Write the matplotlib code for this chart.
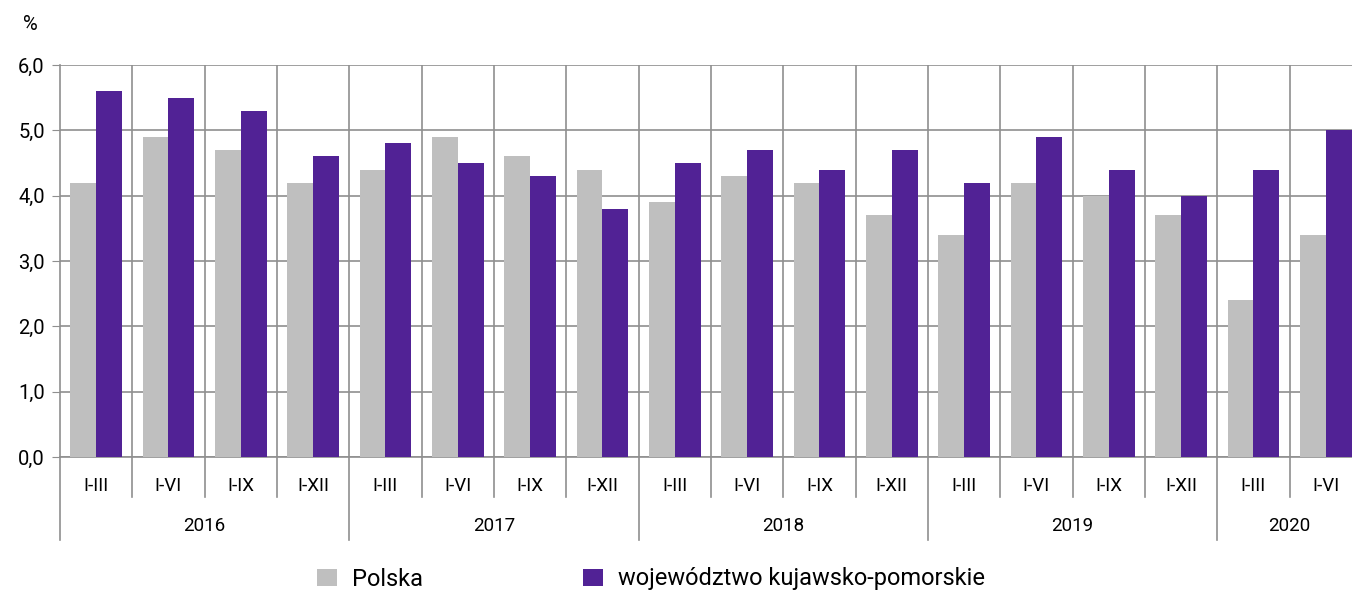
import matplotlib.pyplot as plt
import numpy as np

plt.rcParams['font.family'] = ['Roboto', 'DejaVu Sans']

quarters = ['I-III', 'I-VI', 'I-IX', 'I-XII'] * 4 + ['I-III', 'I-VI']
years = ['2016', '2017', '2018', '2019', '2020']
year_len = [4, 4, 4, 4, 2]
polska = [4.2, 4.9, 4.7, 4.2, 4.4, 4.9, 4.6, 4.4, 3.9, 4.3, 4.2, 3.7,
          3.4, 4.2, 4.0, 3.7, 2.4, 3.4]
kujpom = [5.6, 5.5, 5.3, 4.6, 4.8, 4.5, 4.3, 3.8, 4.5, 4.7, 4.4, 4.7,
          4.2, 4.9, 4.4, 4.0, 4.4, 5.0]

grid_c = '#8f8f8f'
fig = plt.figure(figsize=(13.52, 5.93), dpi=100)
# plot area runs slightly past the right edge of the picture, as in the original
ax = fig.add_axes([60/1352, 1-457/593, 1302/1352, 392/593])

x = np.arange(len(quarters))
w = 0.355
ax.bar(x - w/2, polska, w, color='#bfbfbf', label='Polska', zorder=3)
ax.bar(x + w/2, kujpom, w, color='#512295', label='województwo kujawsko-pomorskie', zorder=3)

ax.set_xlim(-0.5, len(quarters) - 0.5)
ax.set_ylim(0, 6)
ax.set_yticks(np.arange(0, 6.1, 1))
ax.set_yticklabels([f'{v:.1f}'.replace('.', ',') for v in np.arange(0, 6.1, 1)], fontsize=14.5)
ax.yaxis.grid(True, color=grid_c, lw=1.2, zorder=0)
ax.tick_params(axis='y', length=6, color=grid_c, pad=5)
ax.set_xticks([])
for s in ['top', 'right']:
    ax.spines[s].set_visible(False)
ax.spines['left'].set_color(grid_c)
ax.spines['bottom'].set_color(grid_c)
ax.spines['left'].set_linewidth(1.2)
ax.spines['bottom'].set_linewidth(1.2)

tr = ax.get_xaxis_transform()
year_edges = np.cumsum([0] + year_len)
for i in range(1, len(quarters)):
    ax.axvline(i - 0.5, color=grid_c, lw=1.2, zorder=0)
    bottom = -0.212 if i in year_edges else -0.102
    ax.plot([i - 0.5, i - 0.5], [0, bottom], transform=tr, color=grid_c,
            lw=1.2, clip_on=False)
ax.plot([-0.5, -0.5], [0, -0.212], transform=tr, color=grid_c, lw=1.2, clip_on=False)

for i, q in enumerate(quarters):
    ax.text(i, -0.074, q, transform=tr, ha='center', va='center', fontsize=13.5)
for k, y in enumerate(years):
    c = (year_edges[k] + year_edges[k + 1] - 1) / 2
    ax.text(c, -0.176, y, transform=tr, ha='center', va='center', fontsize=13.5)

fig.text(30/1352, 1-25/593, '%', ha='center', va='center', fontsize=14.5)

fig.legend(loc='center left', bbox_to_anchor=(317/1352, 1-579/593), ncol=2,
           frameon=False, fontsize=17, handlelength=0.85, handleheight=0.75,
           handletextpad=0.62, columnspacing=6.8, borderpad=0, borderaxespad=0)

fig.savefig('out.png', dpi=100)
